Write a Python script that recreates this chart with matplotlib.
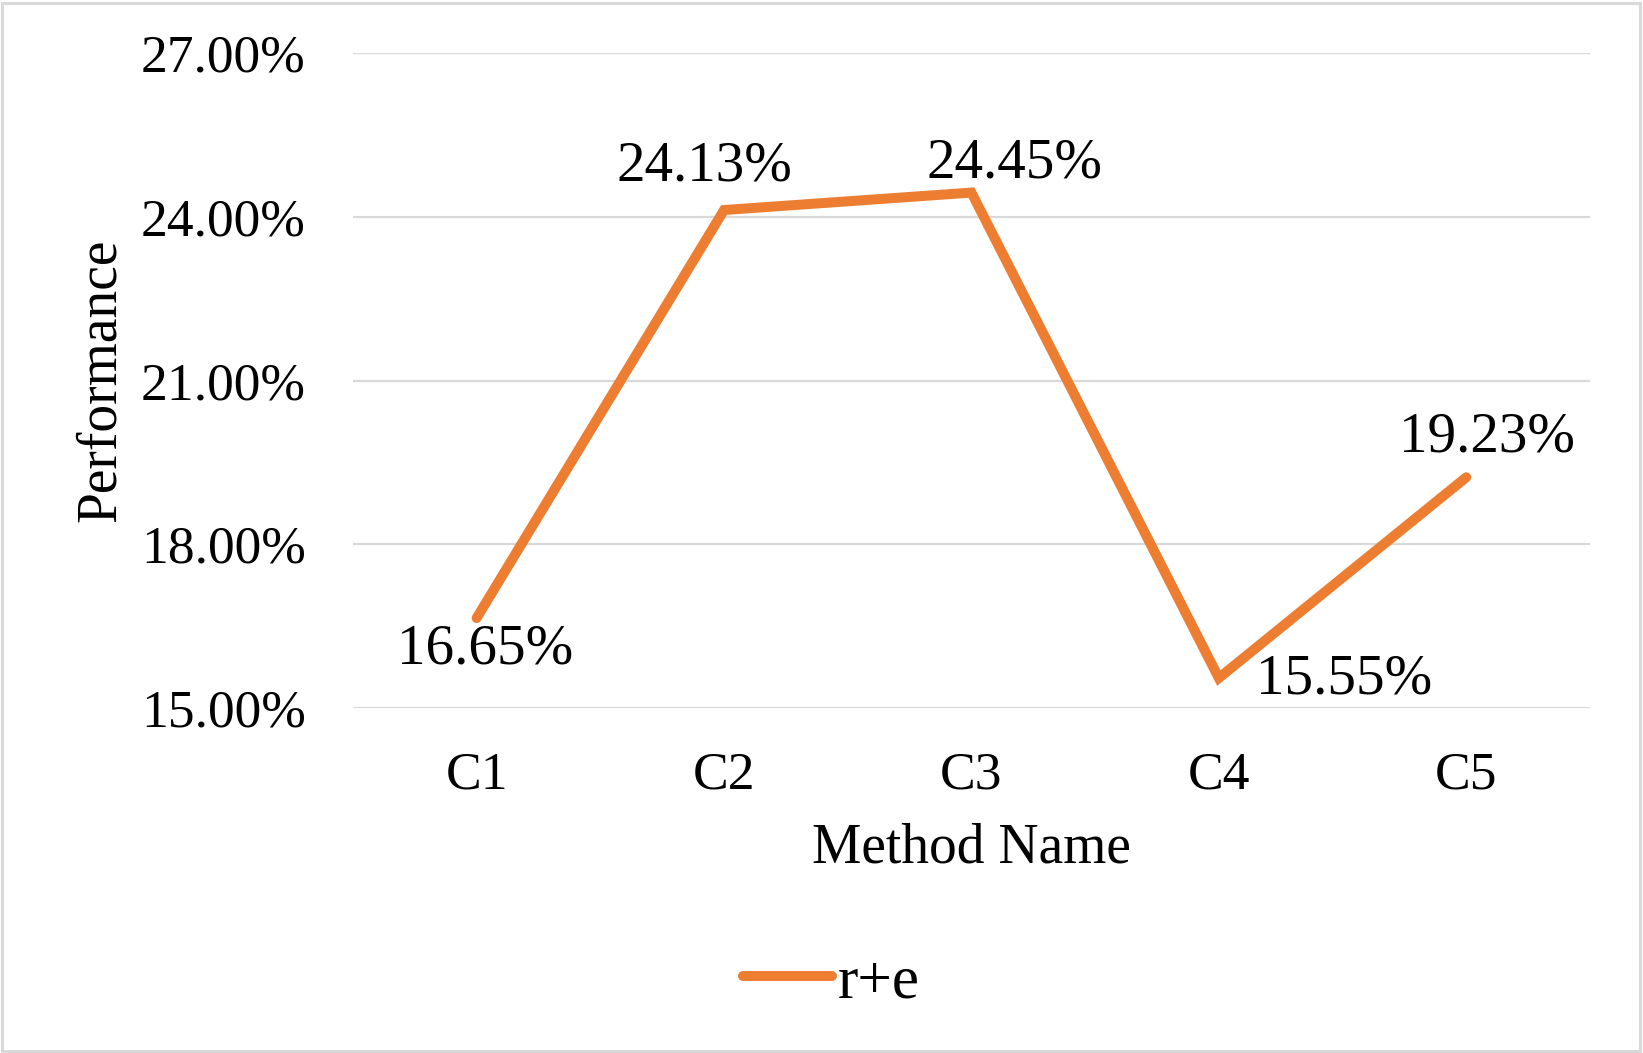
import matplotlib.pyplot as plt
from matplotlib.patches import Rectangle
from matplotlib.ticker import FuncFormatter

methods = ['C1', 'C2', 'C3', 'C4', 'C5']
performance = [16.65, 24.13, 24.45, 15.55, 19.23]
y_ticks = [15, 18, 21, 24, 27]

# смещения подписей (в пунктах) относительно точек
label_offsets = [(6, -23), (-14, 31), (31, 21), (90, -1), (15, 29)]

plt.rcParams['font.family'] = ['Liberation Serif', 'DejaVu Serif']

fig = plt.figure(figsize=(16.43, 10.53), dpi=100)
ax = fig.add_axes([0.2148, 0.3276, 0.7529, 0.6216])

x = list(range(len(methods)))
line, = ax.plot(x, performance, color='#ED7D31', linewidth=7.2,
                solid_capstyle='round', solid_joinstyle='miter', label='r+e', zorder=3)

for xi, v, (dx, dy) in zip(x, performance, label_offsets):
    ax.annotate(f'{v:.2f}%', (xi, v), xytext=(dx, dy), textcoords='offset points',
                ha='center', va='center', fontsize=41, color='black')

ax.set_xlim(-0.5, len(methods) - 0.5)
ax.set_ylim(15, 27)
ax.set_yticks(y_ticks)
ax.yaxis.set_major_formatter(FuncFormatter(lambda v, p: f'{v:.2f}%'))
ax.set_xticks(x)
ax.set_xticklabels(methods)

ax.grid(axis='y', color='#D9D9D9', linewidth=1.6)
ax.set_axisbelow(True)
for s in ax.spines.values():
    s.set_visible(False)
ax.tick_params(axis='both', length=0, labelsize=38.5)
ax.tick_params(axis='y', pad=34)
ax.tick_params(axis='x', pad=31)

ax.set_xlabel('Method Name', fontsize=40, labelpad=17)
ax.set_ylabel('Performance', fontsize=40, labelpad=10)

fig.legend(handles=[line], loc='center', bbox_to_anchor=(0.506, 1 - 983 / 1053),
           frameon=False, fontsize=44, handlelength=1.46, handletextpad=0.1)

fig.patches.append(Rectangle((0.001, 0.0015), 0.997, 0.996, transform=fig.transFigure,
                             fill=False, edgecolor='#D9D9D9', linewidth=2.2))

fig.savefig('out.png', dpi=100)
